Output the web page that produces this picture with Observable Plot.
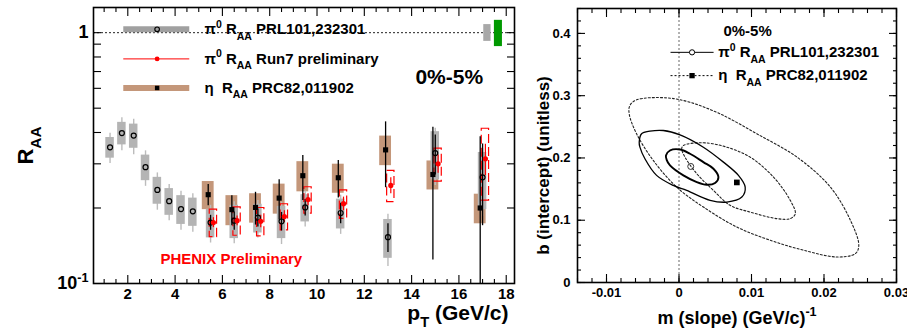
<!DOCTYPE html>
<html><head><meta charset="utf-8">
<script src="https://cdn.jsdelivr.net/npm/d3@7"></script>
<script src="https://cdn.jsdelivr.net/npm/@observablehq/plot@0.6"></script>
<style>
body{margin:0;background:#fff;}
#wrap{position:relative;width:907px;height:336px;overflow:hidden;background:#fff;}
#wrap svg{position:absolute;top:0;overflow:visible;}
</style></head><body><div id="wrap"></div>
<script>
// ---------- Left panel data: R_AA vs pT ----------
const pi0PT   = [1.25,1.75,2.25,2.75,3.25,3.75,4.25,4.75,5.5,6.5,7.5,8.5,9.5,11,13,15,17];
const pi0RAA  = [0.349,0.398,0.389,0.291,0.236,0.213,0.198,0.194,0.175,0.178,0.183,0.177,0.201,0.191,0.153,0.331,0.265];
const pi0Sys  = [0.033,0.041,0.043,0.034,0.029,0.026,0.026,0.025,0.023,0.027,0.024,0.026,0.025,0.026,0.027,0.072,0.068];
const pi0Gray = [0.048,0.060,0.063,0.047,0.040,0.035,0.035,0.034,0.030,0.034,0.031,0.034,0.033,0.034,0.036,0.085,0.080];
const pi0Stat = [0,0,0,0,0,0,0,0,0.012,0.015,0.015,0.015,0.015,0.018,0.020,0.060,0.095];

const etaPT   = [5.5,6.5,7.5,8.5,9.5,11,13,15,17];
const etaRAA  = [0.226,0.197,0.201,0.219,0.269,0.264,0.341,0.272,0.200];
const etaSys  = [0.029,0.027,0.027,0.030,0.037,0.035,0.046,0.036,0.027];
const etaStat = [0.022,0.027,0.030,0.040,0.055,0.045,0.100,0.148,0.185];

const run7PT   = [5.5,6.5,7.5,8.5,9.5,11,13,15,17];
const run7RAA  = [0.175,0.178,0.177,0.185,0.216,0.208,0.246,0.300,0.314];
const run7Sys  = [0.022,0.023,0.023,0.022,0.026,0.027,0.035,0.045,0.100];
const run7Stat = [0.008,0.008,0.010,0.010,0.012,0.013,0.018,0.025,0.045];

const normPi0 = 0.077;   // gray normalization box
const normRun7 = 0.12;   // green normalization box

const xTickLabels = [2,4,6,8,10,12,14,16,18];
const yTickLabels = [0.1, 1];

// ---------- Right panel data: b vs m contours ----------
const pi0Best = [0.00162, 0.1864];
const etaBest = [0.00798, 0.1607];
const pi0C1 = [[-0.0018,0.204],[-0.00124,0.212],[0.00014,0.2136],[0.00152,0.2067],[0.00336,0.1933],[0.00475,0.1827],[0.00544,0.1692],[0.00498,0.1597],[0.00383,0.157],[0.00245,0.1613],[0.0006,0.172],[-0.00124,0.188],[-0.0017,0.197]];
const pi0C2 = [[-0.00549,0.2253],[-0.00516,0.2388],[-0.00401,0.243],[-0.00217,0.2441],[0.00014,0.2371],[0.00336,0.2173],[0.00613,0.1933],[0.0082,0.172],[0.00913,0.1532],[0.00867,0.1372],[0.0066,0.1292],[0.00429,0.1319],[0.00106,0.1479],[-0.00079,0.1559],[-0.00309,0.172],[-0.0047,0.1987],[-0.00539,0.2173]];
const etaC1 = [[0.0006,0.22],[0.00336,0.2244],[0.0066,0.2173],[0.00982,0.2013],[0.01304,0.1692],[0.01535,0.1319],[0.01604,0.1106],[0.01535,0.1026],[0.01351,0.1026],[0.00982,0.1131],[0.00705,0.1239],[0.00475,0.1479],[0.00245,0.1747],[0.00083,0.2013],[0.00037,0.2147]];
const etaC2 = [[-0.00678,0.2841],[-0.00585,0.2933],[-0.0017,0.2965],[0.00152,0.2894],[0.00567,0.2708],[0.01074,0.2388],[0.01628,0.2013],[0.02088,0.1532],[0.02365,0.0998],[0.0248,0.0598],[0.02434,0.0465],[0.02181,0.041],[0.01719,0.0518],[0.01259,0.0678],[0.00798,0.0891],[0.00336,0.1212],[-0.00032,0.1532],[-0.00355,0.196],[-0.00585,0.2388],[-0.00687,0.2708]];
const mTickLabels = [-0.01,0,0.01,0.02,0.03];
const bTickLabels = [0,0.1,0.2,0.3,0.4];

// ---------- build ----------
const FONT = '"Liberation Sans", Arial, Helvetica, sans-serif';
const GRAY = "#b4b4b4", BROWN = "#c4977a", RED = "#ff0000", GREEN = "#009900";
const pi0 = pi0PT.map((pt,i)=>({pt, v:pi0RAA[i], sys:pi0Sys[i], gray:pi0Gray[i], stat:pi0Stat[i]}));
const eta = etaPT.map((pt,i)=>({pt, v:etaRAA[i], sys:etaSys[i], stat:etaStat[i]}));
const run7 = run7PT.map((pt,i)=>({pt, v:run7RAA[i], sys:run7Sys[i], stat:run7Stat[i]}));
const ETA_DX = -0.1, RUN7_DX = 0.12, PI0_W = 0.18, ETA_W = 0.25, RUN7_W = 0.155;

function ticks(axisFn, anchor, values, size) {
  return axisFn({anchor, ticks: values, tickSize: -size, tickFormat: () => "", label: null, strokeWidth: 1.1});
}
const fmt = d => String(+d.toFixed(3));

const xMinor = d3.range(2, 37).map(i => i*0.5).filter(v => v % 2 !== 0);
const yLogTicks = [0.2,0.3,0.4,0.5,0.6,0.7,0.8,0.9,1];

const left = Plot.plot({
  width: 520, height: 336,
  marginLeft: 93, marginRight: 6, marginTop: 7, marginBottom: 53,
  style: {fontFamily: FONT, fontWeight: "bold", fontSize: "14px", background: "transparent", overflow: "visible"},
  x: {domain: [0.55, 18.35]},
  y: {type: "log", domain: [0.1, 1.26]},
  marks: [
    Plot.ruleY([1], {stroke: "#222", strokeDasharray: "2,2", strokeWidth: 1}),
    // eta systematic boxes
    Plot.rect(eta, {x1: d=>d.pt+ETA_DX-ETA_W, x2: d=>d.pt+ETA_DX+ETA_W, y1: d=>d.v-d.sys, y2: d=>d.v+d.sys, fill: BROWN}),
    // pi0 gray whiskers and boxes
    Plot.ruleX(pi0, {x: "pt", y1: d=>d.v-d.gray, y2: d=>d.v+d.gray, stroke: "#bcbcbc", strokeWidth: 1.4}),
    Plot.rect(pi0, {x1: d=>d.pt-PI0_W, x2: d=>d.pt+PI0_W, y1: d=>d.v-d.sys, y2: d=>d.v+d.sys, fill: GRAY}),
    // run7 brackets
    Plot.rect(run7, {x1: d=>d.pt+RUN7_DX-RUN7_W, x2: d=>d.pt+RUN7_DX+RUN7_W, y1: d=>d.v-d.sys, y2: d=>d.v+d.sys, fill: "none", stroke: RED, strokeWidth: 1.2, strokeDasharray: "9,4"}),
    // stat bars
    Plot.ruleX(eta, {x: d=>d.pt+ETA_DX, y1: d=>Math.max(0.1, d.v-d.stat), y2: d=>d.v+d.stat, stroke: "black", strokeWidth: 1.3, clip: true}),
    Plot.ruleX(pi0.filter(d=>d.stat>0), {x: "pt", y1: d=>d.v-d.stat, y2: d=>d.v+d.stat, stroke: "black", strokeWidth: 1.3}),
    Plot.ruleX(run7, {x: d=>d.pt+RUN7_DX, y1: d=>d.v-d.stat, y2: d=>d.v+d.stat, stroke: RED, strokeWidth: 1.2}),
    // markers
    Plot.dot(eta, {x: d=>d.pt+ETA_DX, y: "v", symbol: "square", r: 2.9, fill: "black"}),
    Plot.dot(pi0, {x: "pt", y: "v", r: 2.5, stroke: "black", strokeWidth: 1.2, fill: "none"}),
    Plot.dot(run7, {x: d=>d.pt+RUN7_DX, y: "v", r: 2.6, fill: RED}),
    // normalization boxes
    Plot.rect([normPi0], {x1: 17.05, x2: 17.36, y1: d=>1-d, y2: d=>1+d, fill: "#a8a8a8"}),
    Plot.rect([normRun7], {x1: 17.5, x2: 17.84, y1: d=>1-d, y2: d=>1+d, fill: GREEN}),
    // legend
    Plot.ruleY([1.031], {x1: 1.83, x2: 4.62, stroke: "#a0a0a0", strokeWidth: 6}),
    Plot.dot([1.031], {x: 3.24, y: d=>d, r: 2.3, stroke: "black", strokeWidth: 1.1, fill: "none"}),
    Plot.ruleY([0.786], {x1: 1.83, x2: 4.62, stroke: RED, strokeWidth: 1}),
    Plot.dot([0.786], {x: 3.24, y: d=>d, r: 2.4, fill: RED}),
    Plot.ruleY([0.602], {x1: 1.83, x2: 4.62, stroke: BROWN, strokeWidth: 6}),
    Plot.dot([0.602], {x: 3.24, y: d=>d, symbol: "square", r: 2.5, fill: "black"}),
    Plot.text(["π^{0} R_{AA} PRL101,232301"], {x: 5.24, y: 1.031, textAnchor: "start", fontSize: 15}),
    Plot.text(["π^{0} R_{AA} Run7 preliminary"], {x: 5.24, y: 0.786, textAnchor: "start", fontSize: 15}),
    Plot.text(["η\u00a0\u00a0R_{AA} PRC82,011902"], {x: 5.24, y: 0.602, textAnchor: "start", fontSize: 15}),
    Plot.text(["0%-5%"], {x: 14.16, y: 0.664, textAnchor: "start", fontSize: 21}),
    Plot.text(["PHENIX Preliminary"], {x: 3.38, y: 0.1253, textAnchor: "start", fontSize: 15, fill: RED}),
    // axes
    ticks(Plot.axisX, "bottom", xTickLabels, 8),
    ticks(Plot.axisX, "bottom", xMinor, 4),
    ticks(Plot.axisX, "top", xTickLabels, 8),
    ticks(Plot.axisX, "top", xMinor, 4),
    ticks(Plot.axisY, "left", yLogTicks, 8),
    ticks(Plot.axisY, "right", yLogTicks, 8),
    Plot.axisX({anchor: "bottom", ticks: xTickLabels, tickSize: 0, tickPadding: 5, tickFormat: fmt, label: null, fontSize: 15}),
    Plot.axisY({anchor: "left", ticks: yTickLabels, tickSize: 0, tickPadding: 5, tickFormat: d => d === 1 ? "1" : "10^{-1}", label: null, fontSize: 18}),
    Plot.text(["R_{AA}"], {frameAnchor: "left", textAnchor: "middle", dx: -68, dy: 0, rotate: -90, fontSize: 22}),
    Plot.text(["p_{T} (GeV/c)"], {frameAnchor: "bottom-right", textAnchor: "end", dx: -6, dy: 36, fontSize: 21}),
    Plot.frame({stroke: "black", strokeWidth: 1.6})
  ]
});

const mMinor = d3.range(-7, 16).map(i => i*0.002);
const bMinor = d3.range(0, 23).map(i => i*0.02);
const right = Plot.plot({
  width: 387, height: 336,
  marginLeft: 57, marginRight: 11, marginTop: 8, marginBottom: 54,
  style: {fontFamily: FONT, fontWeight: "bold", fontSize: "13px", background: "transparent", overflow: "visible"},
  x: {domain: [-0.014, 0.03]},
  y: {domain: [0, 0.44]},
  marks: [
    Plot.ruleX([0], {stroke: "#666", strokeDasharray: "2,2", strokeWidth: 1}),
    Plot.line(etaC2, {x: d=>d[0], y: d=>d[1], curve: "catmull-rom-closed", stroke: "#222", strokeWidth: 1.1, strokeDasharray: "2,2"}),
    Plot.line(etaC1, {x: d=>d[0], y: d=>d[1], curve: "catmull-rom-closed", stroke: "#222", strokeWidth: 1.1, strokeDasharray: "2,2"}),
    Plot.line(pi0C2, {x: d=>d[0], y: d=>d[1], curve: "catmull-rom-closed", stroke: "black", strokeWidth: 1.3}),
    Plot.line(pi0C1, {x: d=>d[0], y: d=>d[1], curve: "catmull-rom-closed", stroke: "black", strokeWidth: 1.9}),
    Plot.dot([pi0Best], {x: d=>d[0], y: d=>d[1], r: 3, stroke: "#333", strokeWidth: 1, fill: "none"}),
    Plot.dot([etaBest], {x: d=>d[0], y: d=>d[1], symbol: "square", r: 3.2, fill: "black"}),
    // legend
    Plot.text(["0%-5%"], {x: 0.00613, y: 0.4043, textAnchor: "start", fontSize: 15}),
    Plot.ruleY([0.3696], {x1: -0.0011, x2: 0.00484, stroke: "black", strokeWidth: 1}),
    Plot.dot([0.3696], {x: 0.0018, y: d=>d, r: 2.6, stroke: "black", fill: "white", strokeWidth: 1}),
    Plot.ruleY([0.3322], {x1: -0.0011, x2: 0.00484, stroke: "black", strokeWidth: 1, strokeDasharray: "2,2"}),
    Plot.dot([0.3322], {x: 0.0018, y: d=>d, symbol: "square", r: 3, fill: "black"}),
    Plot.text(["π^{0} R_{AA} PRL101,232301"], {x: 0.0054, y: 0.3696, textAnchor: "start", fontSize: 15}),
    Plot.text(["η\u00a0\u00a0R_{AA} PRC82,011902"], {x: 0.0054, y: 0.3322, textAnchor: "start", fontSize: 15}),
    // axes
    ticks(Plot.axisX, "bottom", mTickLabels, 8),
    ticks(Plot.axisX, "bottom", mMinor, 4),
    ticks(Plot.axisX, "top", mTickLabels, 8),
    ticks(Plot.axisX, "top", mMinor, 4),
    ticks(Plot.axisY, "left", bTickLabels, 8),
    ticks(Plot.axisY, "left", bMinor, 4),
    ticks(Plot.axisY, "right", bTickLabels, 8),
    ticks(Plot.axisY, "right", bMinor, 4),
    Plot.axisX({anchor: "bottom", ticks: mTickLabels, tickSize: 0, tickPadding: 5, tickFormat: fmt, label: null, fontSize: 13}),
    Plot.axisY({anchor: "left", ticks: bTickLabels, tickSize: 0, tickPadding: 7, tickFormat: fmt, label: null, fontSize: 13}),
    Plot.text(["b (intercept) (unitless)"], {frameAnchor: "left", textAnchor: "middle", dx: -34, dy: 20, rotate: -90, fontSize: 17}),
    Plot.text(["m (slope) (GeV/c)^{-1}"], {frameAnchor: "bottom", textAnchor: "middle", dy: 41, fontSize: 18}),
    Plot.frame({stroke: "black", strokeWidth: 1.6})
  ]
});

const wrap = document.getElementById("wrap");
left.style.left = "0px";
right.style.left = "520px";
wrap.appendChild(left);
wrap.appendChild(right);

function richify(root) {
  const ns = "http://www.w3.org/2000/svg";
  root.querySelectorAll("text").forEach(el => {
    const s = el.textContent;
    if (!/[_^]\{/.test(s)) return;
    const fs = parseFloat(getComputedStyle(el).fontSize) || 12;
    while (el.firstChild) el.removeChild(el.firstChild);
    const re = /([_^])\{([^}]*)\}/g;
    let last = 0, m, off = 0;
    const push = (txt, shift, small) => {
      const t = document.createElementNS(ns, "tspan");
      t.textContent = txt;
      const dy = shift - off;
      if (dy) t.setAttribute("dy", dy.toFixed(2));
      if (small) t.setAttribute("font-size", (fs * 0.7).toFixed(1));
      off = shift;
      el.appendChild(t);
    };
    while ((m = re.exec(s))) {
      if (m.index > last) push(s.slice(last, m.index), 0, false);
      push(m[2], m[1] === "_" ? fs * 0.38 : -fs * 0.42, true);
      last = re.lastIndex;
    }
    if (last < s.length) push(s.slice(last), 0, false);
  });
}
richify(wrap);
</script>
</body></html>
